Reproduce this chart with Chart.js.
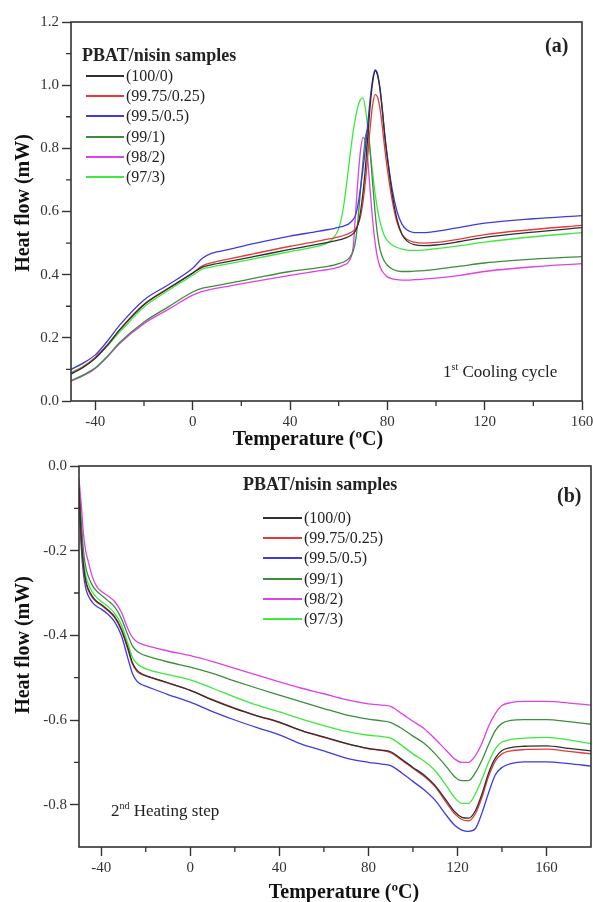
<!DOCTYPE html>
<html>
<head>
<meta charset="utf-8">
<script src="https://cdn.jsdelivr.net/npm/chart.js@4"></script>
<style>
  body { margin: 0; background: #fff; }
  #wrap { position: relative; width: 593px; height: 902px; font-family: 'Liberation Serif', 'Times New Roman', serif; color: #222; }
  canvas { position: absolute; left: 0; }
  .t { position: absolute; white-space: nowrap; }
  .sw { position: absolute; height: 2px; }
  .ax { position: absolute; white-space: nowrap; font-weight: bold; font-size: 20px; line-height: 20px; color: #111; transform: translate(-50%, -50%); }
  .ax.v { transform: translate(-50%, -50%) rotate(-90deg); }
  sup { font-size: 10px; vertical-align: 7px; line-height: 0; }
</style>
</head>
<body>
<div id="wrap">
  <canvas id="cool" width="593" height="452" style="top:0"></canvas>
  <canvas id="heat" width="593" height="452" style="top:450px"></canvas>
  <div id="labels"></div>
</div>
<script>
// sample names and colours
const samples = ['(100/0)', '(99.75/0.25)', '(99.5/0.5)', '(99/1)', '(98/2)', '(97/3)'];
const colors = ['#303030', '#e8393a', '#3c3ce0', '#3b8f3b', '#e040e8', '#3ee83e'];

// (a) 1st cooling cycle
const coolTemps = [-50,-45,-40,-35,-30,-20,-10,0,4,8,15,25,40,50,56,58,60,62,64,66,67,68,69,70,71,72,73,74,75,76,77,78,79,80,82,84,86,88,91,95,100,110,120,140,160];
const cool100 = [0.085,0.106,0.135,0.177,0.225,0.305,0.356,0.405,0.424,0.432,0.442,0.457,0.48,0.494,0.503,0.506,0.51,0.514,0.52,0.53,0.54,0.56,0.6,0.66,0.74,0.84,0.94,1.01,1.045,1.03,0.985,0.915,0.835,0.77,0.655,0.575,0.528,0.507,0.495,0.492,0.494,0.505,0.518,0.535,0.549];
const cool9975 = [0.088,0.108,0.138,0.178,0.226,0.306,0.357,0.405,0.428,0.438,0.45,0.466,0.49,0.504,0.513,0.516,0.52,0.524,0.53,0.538,0.546,0.56,0.585,0.63,0.695,0.78,0.87,0.94,0.97,0.962,0.925,0.865,0.795,0.735,0.635,0.565,0.528,0.512,0.503,0.5,0.502,0.513,0.527,0.543,0.556];
const cool995 = [0.1,0.12,0.146,0.19,0.24,0.32,0.368,0.42,0.452,0.468,0.48,0.498,0.522,0.535,0.543,0.546,0.55,0.554,0.56,0.575,0.59,0.625,0.676,0.735,0.8,0.88,0.96,1.02,1.048,1.035,0.99,0.92,0.84,0.775,0.67,0.6,0.56,0.542,0.533,0.533,0.537,0.55,0.563,0.577,0.587];
const cool99 = [0.065,0.082,0.105,0.142,0.185,0.25,0.298,0.345,0.357,0.363,0.373,0.388,0.41,0.42,0.427,0.43,0.435,0.44,0.45,0.475,0.51,0.58,0.67,0.76,0.835,0.86,0.785,0.685,0.595,0.525,0.48,0.455,0.44,0.43,0.418,0.412,0.41,0.41,0.411,0.413,0.417,0.427,0.437,0.449,0.457];
const cool98 = [0.063,0.08,0.103,0.14,0.182,0.245,0.29,0.335,0.347,0.354,0.364,0.378,0.398,0.41,0.417,0.42,0.424,0.43,0.44,0.49,0.6,0.71,0.795,0.835,0.82,0.76,0.66,0.57,0.5,0.452,0.425,0.41,0.4,0.393,0.387,0.384,0.383,0.383,0.384,0.386,0.389,0.398,0.41,0.425,0.435];
const cool97 = [0.09,0.11,0.138,0.175,0.218,0.298,0.35,0.398,0.418,0.425,0.435,0.45,0.473,0.488,0.503,0.518,0.545,0.615,0.735,0.855,0.9,0.935,0.955,0.96,0.925,0.86,0.785,0.72,0.655,0.605,0.568,0.54,0.52,0.508,0.494,0.486,0.481,0.478,0.477,0.478,0.482,0.492,0.503,0.52,0.533];

// (b) 2nd heating step
const heatTemps = [-50,-49,-48,-47,-46,-44,-42,-40,-37,-34,-31,-28,-26,-24,-22,-20,-10,0,10,20,30,40,50,60,70,80,86,90,95,100,105,110,115,119,122,125,128,131,134,137,140,144,150,160,170,180];
const heat100 = [-0.05,-0.17,-0.235,-0.27,-0.288,-0.308,-0.32,-0.327,-0.34,-0.356,-0.385,-0.43,-0.465,-0.482,-0.49,-0.495,-0.512,-0.53,-0.553,-0.573,-0.59,-0.605,-0.625,-0.64,-0.655,-0.667,-0.671,-0.675,-0.693,-0.712,-0.73,-0.755,-0.79,-0.818,-0.83,-0.832,-0.815,-0.775,-0.725,-0.69,-0.672,-0.665,-0.662,-0.661,-0.667,-0.673];
const heat9975 = [-0.052,-0.175,-0.24,-0.274,-0.292,-0.311,-0.322,-0.329,-0.342,-0.358,-0.388,-0.434,-0.468,-0.485,-0.492,-0.496,-0.513,-0.53,-0.552,-0.572,-0.59,-0.606,-0.625,-0.641,-0.656,-0.668,-0.672,-0.677,-0.695,-0.714,-0.733,-0.758,-0.795,-0.823,-0.835,-0.838,-0.822,-0.783,-0.733,-0.697,-0.68,-0.673,-0.67,-0.669,-0.674,-0.68];
const heat995 = [-0.06,-0.19,-0.255,-0.288,-0.305,-0.322,-0.332,-0.338,-0.35,-0.368,-0.4,-0.455,-0.49,-0.508,-0.516,-0.52,-0.54,-0.558,-0.58,-0.6,-0.618,-0.635,-0.657,-0.673,-0.69,-0.7,-0.704,-0.708,-0.725,-0.745,-0.765,-0.79,-0.825,-0.85,-0.86,-0.863,-0.857,-0.82,-0.772,-0.73,-0.712,-0.703,-0.699,-0.699,-0.703,-0.709];
const heat99 = [-0.055,-0.13,-0.2,-0.238,-0.258,-0.282,-0.296,-0.305,-0.318,-0.333,-0.36,-0.4,-0.425,-0.437,-0.444,-0.448,-0.463,-0.475,-0.49,-0.508,-0.525,-0.541,-0.557,-0.573,-0.588,-0.598,-0.602,-0.606,-0.62,-0.638,-0.655,-0.68,-0.71,-0.735,-0.743,-0.743,-0.725,-0.695,-0.658,-0.625,-0.608,-0.601,-0.599,-0.599,-0.604,-0.61];
const heat98 = [-0.03,-0.09,-0.16,-0.2,-0.222,-0.262,-0.285,-0.296,-0.307,-0.32,-0.345,-0.385,-0.405,-0.415,-0.42,-0.424,-0.437,-0.448,-0.462,-0.478,-0.494,-0.51,-0.525,-0.538,-0.552,-0.562,-0.565,-0.568,-0.585,-0.603,-0.62,-0.645,-0.672,-0.693,-0.7,-0.7,-0.685,-0.655,-0.615,-0.585,-0.566,-0.559,-0.556,-0.556,-0.56,-0.565];
const heat97 = [-0.05,-0.15,-0.22,-0.258,-0.276,-0.298,-0.311,-0.32,-0.332,-0.348,-0.375,-0.42,-0.452,-0.466,-0.474,-0.479,-0.493,-0.505,-0.525,-0.546,-0.565,-0.581,-0.598,-0.613,-0.627,-0.636,-0.639,-0.643,-0.66,-0.68,-0.697,-0.72,-0.755,-0.785,-0.797,-0.797,-0.775,-0.74,-0.7,-0.668,-0.652,-0.646,-0.643,-0.641,-0.647,-0.656];

const coolSeries = [cool100, cool9975, cool995, cool99, cool98, cool97];
const heatSeries = [heat100, heat9975, heat995, heat99, heat98, heat97];

Chart.defaults.font.family = "'Liberation Serif', 'Times New Roman', serif";
Chart.defaults.color = '#333';

// frame box + short minor ticks
const framePlugin = {
  id: 'frame',
  afterDraw(chart, args, opts) {
    const { ctx, chartArea: a, scales } = chart;
    ctx.save();
    ctx.strokeStyle = '#333';
    ctx.lineWidth = 1.6;
    ctx.strokeRect(a.left, a.top, a.right - a.left, a.bottom - a.top);
    ctx.lineWidth = 1.3;
    ctx.beginPath();
    opts.xMinor.forEach(v => {
      const px = scales.x.getPixelForValue(v);
      ctx.moveTo(px, a.bottom); ctx.lineTo(px, a.bottom + 5);
    });
    opts.yMinor.forEach(v => {
      const py = scales.y.getPixelForValue(v);
      ctx.moveTo(a.left, py); ctx.lineTo(a.left - 5, py);
    });
    ctx.stroke();
    ctx.restore();
  }
};

function makeChart(id, temps, series, cfg) {
  const H = 452;
  return new Chart(document.getElementById(id), {
    type: 'line',
    data: {
      datasets: series.map((vals, i) => ({
        label: samples[i],
        data: temps.map((t, k) => ({ x: t, y: vals[k] })),
        borderColor: colors[i],
        borderWidth: 1.3,
        pointRadius: 0,
        cubicInterpolationMode: 'monotone'
      }))
    },
    options: {
      responsive: false,
      animation: false,
      devicePixelRatio: 1,
      layout: { padding: { top: cfg.top, right: cfg.right, left: 0, bottom: 0 } },
      plugins: {
        legend: { display: false },
        tooltip: { enabled: false },
        frame: { xMinor: cfg.xMinor, yMinor: cfg.yMinor }
      },
      scales: {
        x: {
          type: 'linear',
          min: cfg.xMin, max: cfg.xMax,
          afterFit: s => { s.height = H - cfg.bottom; s.paddingLeft = 0; s.paddingRight = 0; },
          border: { display: false },
          grid: { drawOnChartArea: false, tickLength: 9, tickColor: '#333', tickWidth: 1.4 },
          ticks: { stepSize: 40, includeBounds: false, padding: 3, font: { size: 15 }, maxRotation: 0 }
        },
        y: {
          min: cfg.yMin, max: cfg.yMax,
          afterFit: s => { s.width = cfg.left; s.paddingTop = 0; s.paddingBottom = 0; },
          border: { display: false },
          grid: { drawOnChartArea: false, tickLength: 9, tickColor: '#333', tickWidth: 1.4 },
          ticks: { stepSize: 0.2, includeBounds: false, padding: 3, font: { size: 15 }, callback: v => v.toFixed(1) }
        }
      }
    },
    plugins: [framePlugin]
  });
}

makeChart('cool', coolTemps, coolSeries, {
  top: 22, right: 11, left: 71, bottom: 401,
  xMin: -50, xMax: 160, yMin: 0, yMax: 1.2,
  xMinor: [-20, 20, 60, 100, 140],
  yMinor: [0.1, 0.3, 0.5, 0.7, 0.9, 1.1]
});
makeChart('heat', heatTemps, heatSeries, {
  top: 16, right: 2, left: 79, bottom: 397,
  xMin: -50, xMax: 180, yMin: -0.9, yMax: 0,
  xMinor: [-20, 20, 60, 100, 140],
  yMinor: [-0.1, -0.3, -0.5, -0.7]
});

// text overlays: axis titles, panel letters, legends, notes
const labels = document.getElementById('labels');
function addText(html, left, cy, size, bold) {
  const d = document.createElement('div');
  d.className = 't';
  d.innerHTML = html;
  d.style.left = left + 'px';
  d.style.top = (cy - size / 2) + 'px';
  d.style.fontSize = size + 'px';
  d.style.lineHeight = size + 'px';
  if (bold) d.style.fontWeight = 'bold';
  labels.appendChild(d);
}
function addAxisTitle(text, cx, cy, vertical) {
  const d = document.createElement('div');
  d.className = vertical ? 'ax v' : 'ax';
  d.textContent = text;
  d.style.left = cx + 'px';
  d.style.top = cy + 'px';
  labels.appendChild(d);
}
function addLegend(titleX, titleY, lineX, lineW, rowY) {
  addText('PBAT/nisin samples', titleX, titleY, 18, true);
  samples.forEach((s, i) => {
    const y = Math.round(rowY + i * 20.2);
    const sw = document.createElement('div');
    sw.className = 'sw';
    sw.style.left = lineX + 'px';
    sw.style.width = lineW + 'px';
    sw.style.top = (y - 1) + 'px';
    sw.style.background = colors[i];
    labels.appendChild(sw);
    addText(s, lineX + lineW + 2, y, 16, false);
  });
}
addAxisTitle('Heat flow (mW)', 22, 203, true);
addAxisTitle('Temperature (ºC)', 308, 438, false);
addText('(a)', 545, 45, 20, true);
addLegend(82, 55, 86, 38, 76);
addText('1<sup>st</sup> Cooling cycle', 443, 371, 17, false);

addAxisTitle('Heat flow (mW)', 22, 645, true);
addAxisTitle('Temperature (ºC)', 344, 891, false);
addText('(b)', 557, 495, 20, true);
addLegend(243, 484, 263, 39, 518);
addText('2<sup>nd</sup> Heating step', 111, 810, 17, false);
</script>
</body>
</html>
